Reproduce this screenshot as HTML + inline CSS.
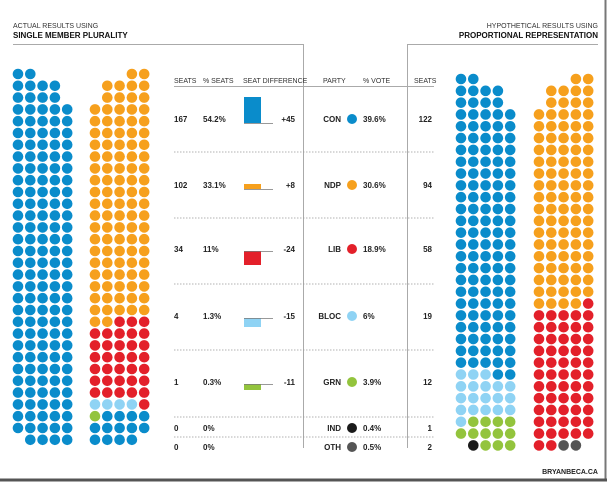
<!DOCTYPE html>
<html><head><meta charset="utf-8"><style>
html,body{margin:0;padding:0;background:#fff;}
svg{display:block;font-family:"Liberation Sans",sans-serif;}
.h{font-size:7px;fill:#333;}
.v{font-size:8px;font-weight:bold;fill:#222;}
</style></head><body>
<svg id="s" width="612" height="484" viewBox="0 0 612 484" xmlns="http://www.w3.org/2000/svg">
<rect width="612" height="484" fill="#fff"/>
<line x1="605.5" y1="0" x2="605.5" y2="480" stroke="#777" stroke-width="2"/>
<line x1="0" y1="480" x2="607" y2="480" stroke="#555" stroke-width="3"/>
<text x="13" y="28" class="h" font-size="8">ACTUAL RESULTS USING</text>
<text x="13" y="38" font-size="8" font-weight="bold" fill="#111">SINGLE MEMBER PLURALITY</text>
<text x="598" y="28" text-anchor="end" class="h" font-size="8">HYPOTHETICAL RESULTS USING</text>
<text x="598" y="38" text-anchor="end" font-size="8" font-weight="bold" fill="#111">PROPORTIONAL REPRESENTATION</text>
<g stroke="#aaa" stroke-width="1" fill="none">
<polyline points="13,44.5 303.5,44.5 303.5,448"/>
<polyline points="598,44.5 407.5,44.5 407.5,448"/>
<line x1="174" y1="86.5" x2="434" y2="86.5"/>
</g>
<g stroke="#999" stroke-width="0.8" stroke-dasharray="1.5,1.5">
<line x1="174" y1="152" x2="434" y2="152"/><line x1="174" y1="218" x2="434" y2="218"/>
<line x1="174" y1="284" x2="434" y2="284"/><line x1="174" y1="350" x2="434" y2="350"/>
<line x1="174" y1="417" x2="434" y2="417"/><line x1="174" y1="437" x2="434" y2="437"/>
</g>
<g class="h">
<text x="174" y="83">SEATS</text><text x="203" y="83">% SEATS</text><text x="243" y="83">SEAT DIFFERENCE</text>
<text x="323" y="83">PARTY</text><text x="363" y="83">% VOTE</text><text x="414" y="83">SEATS</text>
</g>
<g id="rows"></g>
<g id="dots"></g>
<text x="598" y="474" text-anchor="end" font-size="7" font-weight="bold" fill="#222">BRYANBECA.CA</text>
</svg>
<script>
var C={B:"#0a8ccb",O:"#f6a01d",R:"#e3202a",L:"#8fd3f4",G:"#93c43d",K:"#1a1a1a",D:"#555"};
var NS="http://www.w3.org/2000/svg";
function el(t,a,txt,p){var e=document.createElementNS(NS,t);for(var k in a)e.setAttribute(k,a[k]);if(txt!=null)e.textContent=txt;(p||document.getElementById("rows")).appendChild(e);return e;}
var rows=[
["167","54.2%","+45","CON","39.6%","122",119,"B",-26],
["102","33.1%","+8","NDP","30.6%","94",185,"O",-5],
["34","11%","-24","LIB","18.9%","58",249,"R",14],
["4","1.3%","-15","BLOC","6%","19",316,"L",9],
["1","0.3%","-11","GRN","3.9%","12",382,"G",6],
["0","0%","","IND","0.4%","1",428,"K",0],
["0","0%","","OTH","0.5%","2",447,"D",0]];
rows.forEach(function(r){var y=r[6],ty=y+3;
el("text",{x:174,y:ty,"class":"v"},r[0]);el("text",{x:203,y:ty,"class":"v"},r[1]);
if(r[2]){var base=y+(r[8]<0?4:2);
if(r[8]<0)el("rect",{x:244,y:base+r[8],width:17,height:-r[8],fill:C[r[7]]});
else el("rect",{x:244,y:base,width:17,height:r[8],fill:C[r[7]]});
el("line",{x1:244,y1:base+0.5,x2:273,y2:base+0.5,stroke:"#777","stroke-width":0.8});
el("text",{x:295,y:ty,"class":"v","text-anchor":"end"},r[2]);}
el("text",{x:341,y:ty,"class":"v","text-anchor":"end"},r[3]);
el("circle",{cx:352,cy:y,r:5,fill:C[r[7]]});
el("text",{x:363,y:ty,"class":"v"},r[4]);
el("text",{x:432,y:ty,"class":"v","text-anchor":"end"},r[5]);});
function grp(x0,y0,pitch,spec){var d=document.getElementById("dots");
spec.forEach(function(s,i){for(var c=0;c<5;c++){var ch=s[c];if(ch&&ch!="_")el("circle",{cx:x0+c*12.3,cy:y0+i*pitch,r:5.3,fill:C[ch]},null,d);}});}
function rep(s,n){var a=[];for(var i=0;i<n;i++)a.push(s);return a;}
var g1=["BB___","BBBB_","BBBB_"].concat(rep("BBBBB",28),["_BBBB"]);
var g2=["___OO","_OOOO","_OOOO"].concat(rep("OOOOO",18),["OORRR"],rep("RRRRR",6),["LLLLR","GBBBB","BBBBB","BBBB_"]);
var g3=["BB___","BBBB_","BBBB_"].concat(rep("BBBBB",22),["LLLBB","LLLLL","LLLLL","LLLLL","LGGGG","GGGGG","_KGGG"]);
var g4=["___OO","_OOOO","_OOOO"].concat(rep("OOOOO",16),["OOOOR"],rep("RRRRR",11),["RRDD_"]);
grp(18,74,11.8,g1);grp(95,74,11.8,g2);grp(461,79,11.82,g3);grp(539,79,11.82,g4);
</script>
</body></html>
